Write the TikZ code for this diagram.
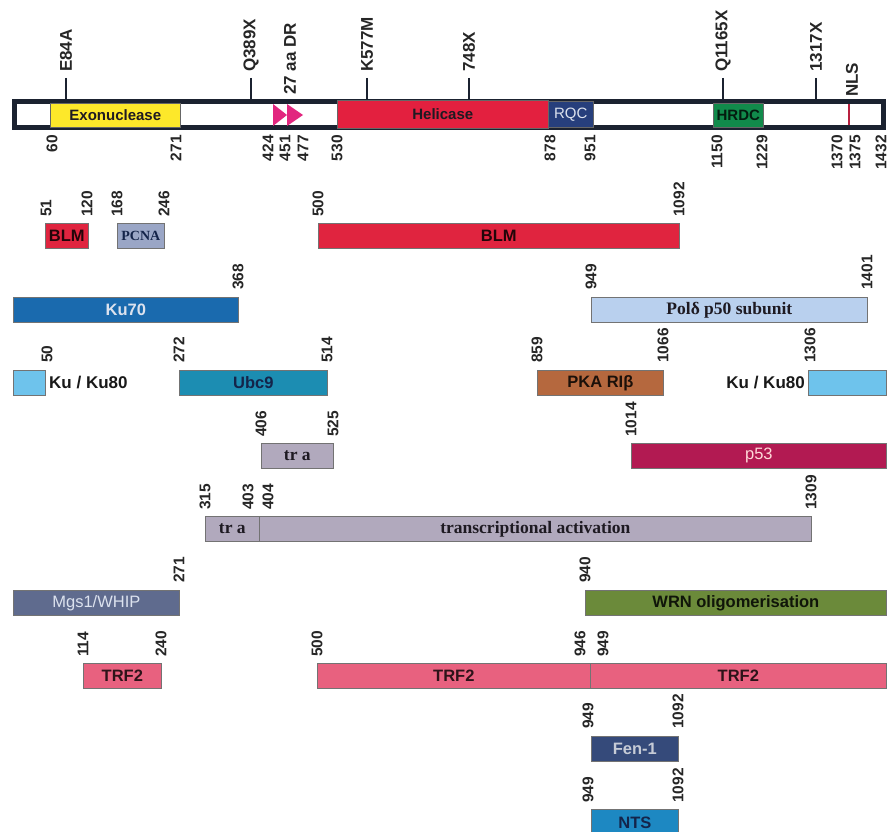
\documentclass[tikz,border=0pt]{standalone}
\usepackage{fontspec}
\setmainfont{Liberation Sans}
\newfontfamily\serifb{Liberation Serif}
\definecolor{framec}{HTML}{1B2230}
\definecolor{exoc}{HTML}{FDE82A}
\definecolor{helic}{HTML}{E3203F}
\definecolor{rqcc}{HTML}{273F7C}
\definecolor{hrdcc}{HTML}{118A4B}
\definecolor{tric}{HTML}{E2267F}
\definecolor{nlsc}{HTML}{B8203F}
\definecolor{blmc}{HTML}{E0243F}
\definecolor{pcnac}{HTML}{9AA6C6}
\definecolor{kuc}{HTML}{1A6AAE}
\definecolor{polc}{HTML}{B9D0EE}
\definecolor{kueic}{HTML}{6EC3EC}
\definecolor{ubcc}{HTML}{1C8DB2}
\definecolor{pkac}{HTML}{B5683E}
\definecolor{trac}{HTML}{B1A9BD}
\definecolor{pfc}{HTML}{B21A52}
\definecolor{mgsc}{HTML}{5F6B8E}
\definecolor{wrnc}{HTML}{6B8A3A}
\definecolor{trfc}{HTML}{E8617F}
\definecolor{fenc}{HTML}{354A7A}
\definecolor{ntsc}{HTML}{1D88C2}
\definecolor{darktxt}{HTML}{1E1A22}
\definecolor{navytxt}{HTML}{14244A}
\definecolor{lighttxt}{HTML}{DCE2EE}
\begin{document}
\begin{tikzpicture}[x=1pt,y=-1pt,
  numf/.style={font=\bfseries\fontsize{15.5}{16}\selectfont, rotate=90, inner sep=0pt, text=black!85},
  numup/.style={numf, anchor=west},
  numdown/.style={numf, anchor=east},
  mut/.style={font=\bfseries\fontsize{17}{18}\selectfont, rotate=90, anchor=west, inner sep=0pt, text=black!85},
  tickline/.style={line width=2pt, draw=framec},
  boxf/.style={draw=black!55, line width=0.7pt, anchor=north west, inner sep=0pt, minimum height=25pt,
    font=\bfseries\fontsize{16.5}{17}\selectfont, text=darktxt},
  domf/.style={draw=black!60, line width=0.6pt, anchor=north west, inner sep=0pt,
    font=\bfseries\fontsize{15}{16}\selectfont, text=darktxt},
  serifl/.style={font=\serifb\bfseries\fontsize{17.5}{18}\selectfont, text=darktxt},
  sidelab/.style={font=\bfseries\fontsize{17}{18}\selectfont, inner sep=0pt, text=black!90}
]
\clip (0,0) rectangle (892,832);
\fill[white] (0,0) rectangle (892,832);

% ---------- main WRN bar ----------
\draw[line width=5pt, draw=framec, fill=white] (14.5,101.5) rectangle (883.5,127.5);
\node[domf, fill=exoc, minimum width=130pt, minimum height=24pt] (exo) at (50,103) {Exonuclease};
\fill[tric] (273,104) -- (287,115) -- (273,126) -- cycle;
\fill[tric] (287,104) -- (303,115) -- (287,126) -- cycle;
\node[domf, fill=helic, minimum width=211pt, minimum height=28pt] (heli) at (337,100) {Helicase};
\node[domf, fill=rqcc, minimum width=45pt, minimum height=26pt, font=\fontsize{15}{16}\selectfont, text=lighttxt] (rqc) at (548,101) {RQC};
\node[domf, fill=hrdcc, minimum width=50pt, minimum height=24pt, text=black!80!hrdcc] (hrdc) at (713,103) {HRDC};
\draw[nlsc, line width=1.6pt] (849,104.5) -- (849,125);

% mutation ticks and labels
\node[mut] (mE) at (66,72) {E84A};
\node[mut] (mQ) at (251,72) {Q389X};
\node[mut] (mDR) at (290,95) {27 aa DR};
\node[mut] (mK) at (367,72) {K577M};
\node[mut] (m748) at (469,72) {748X};
\node[mut] (mQ11) at (723,72) {Q1165X};
\node[mut] (m1317) at (816,72) {1317X};
\node[mut] (mNLS) at (852,97) {NLS};
\foreach \x/\n in {66/tE,251/tQ,367/tK,469/t748,723/tQ11,816/t1317}{
  \coordinate (\n a) at (\x,78);
  \coordinate (\n b) at (\x,100);
  \draw[tickline] (\n a) -- (\n b);
}

% numbers under bar
\foreach \x/\t in {52/60,176/271,268/424,285/451,303/477,337/530,550/878,590/951,717/1150,762/1229,837/1370,855/1375,881/1432}{
  \node[numdown] (b\t) at (\x,135) {\t};
}

% ---------- row 1 ----------
\node[boxf, fill=blmc, minimum width=43pt, text=black!85!blmc] (blma) at (45,223) {BLM};
\node[boxf, fill=pcnac, minimum width=47pt, font=\serifb\bfseries\fontsize{14}{15}\selectfont, text=navytxt] (pcna) at (117,223) {PCNA};
\node[boxf, fill=blmc, minimum width=361pt, text=black!85!blmc] (blmb) at (318,223) {BLM};
\foreach \x/\t/\n in {46/51/r1a,87/120/r1b,117/168/r1c,164/246/r1d,318/500/r1e,679/1092/r1f}{
  \node[numup] (\n) at (\x,217) {\t};
}

% ---------- row 2 ----------
\node[boxf, fill=kuc, minimum width=225pt, font=\fontsize{16.5}{17}\selectfont\bfseries, text=lighttxt] (ku70) at (13,297) {Ku70};
\node[boxf, fill=polc, minimum width=276pt, serifl] (pol) at (591,297) {Polδ p50 subunit};
\foreach \x/\t/\n in {238/368/r2a,591/949/r2b,867/1401/r2c}{
  \node[numup] (\n) at (\x,290) {\t};
}

% ---------- row 3 ----------
\node[boxf, fill=kueic, minimum width=32pt] (kua) at (13,370) {};
\node[sidelab, anchor=west] (kuat) at (49,383) {Ku / Ku80};
\node[boxf, fill=ubcc, minimum width=148pt, text=navytxt] (ubc) at (179,370) {Ubc9};
\node[boxf, fill=pkac, minimum width=126pt, text=black!85!pkac] (pka) at (537,370) {PKA RIβ};
\node[boxf, fill=kueic, minimum width=78pt] (kub) at (808,370) {};
\node[sidelab, anchor=east] (kubt) at (805,383) {Ku / Ku80};
\foreach \x/\t/\n in {47/50/r3a,179/272/r3b,327/514/r3c,537/859/r3d,663/1066/r3e,810/1306/r3f}{
  \node[numup] (\n) at (\x,363) {\t};
}

% ---------- row 4 ----------
\node[boxf, fill=trac, minimum width=72pt, serifl] (traa) at (261,443) {tr a};
\node[boxf, fill=pfc, minimum width=255pt, font=\fontsize{16.5}{17}\selectfont, text=pink!60!white] (p53) at (631,443) {p53};
\foreach \x/\t/\n in {261/406/r4a,333/525/r4b,631/1014/r4c}{
  \node[numup] (\n) at (\x,437) {\t};
}

% ---------- row 5 ----------
\node[boxf, fill=trac, minimum width=54pt, serifl] (trab) at (205,516) {tr a};
\node[boxf, fill=trac, minimum width=552pt, serifl] (trans) at (259,516) {transcriptional activation};
\foreach \x/\t/\n in {205/315/r5a,248/403/r5b,268/404/r5c,811/1309/r5d}{
  \node[numup] (\n) at (\x,510) {\t};
}

% ---------- row 6 ----------
\node[boxf, fill=mgsc, minimum width=166pt, font=\fontsize{16.5}{17}\selectfont, text=lighttxt] (mgs) at (13,590) {Mgs1/WHIP};
\node[boxf, fill=wrnc, minimum width=301pt, text=black!85!wrnc] (wrn) at (585,590) {WRN oligomerisation};
\foreach \x/\t/\n in {179/271/r6a,585/940/r6b}{
  \node[numup] (\n) at (\x,583) {\t};
}

% ---------- row 7 ----------
\node[boxf, fill=trfc, minimum width=78pt, text=black!80!trfc] (trfa) at (83,663) {TRF2};
\node[boxf, fill=trfc, minimum width=273pt, text=black!80!trfc] (trfb) at (317,663) {TRF2};
\node[boxf, fill=trfc, minimum width=296pt, text=black!80!trfc] (trfc) at (590,663) {TRF2};
\foreach \x/\t/\n in {83/114/r7a,161/240/r7b,317/500/r7c,580/946/r7d,603/949/r7e}{
  \node[numup] (\n) at (\x,657) {\t};
}

% ---------- row 8 ----------
\node[boxf, fill=fenc, minimum width=87pt, font=\fontsize{16.5}{17}\selectfont\bfseries, text=lighttxt!90!black] (fen) at (591,736) {Fen-1};
\foreach \x/\t/\n in {588/949/r8a,678/1092/r8b}{
  \node[numup] (\n) at (\x,729) {\t};
}

% ---------- row 9 ----------
\node[boxf, fill=ntsc, minimum width=87pt, minimum height=34pt, text=navytxt] (nts) at (591,809) {\raisebox{7pt}{NTS}};
\foreach \x/\t/\n in {588/949/r9a,678/1092/r9b}{
  \node[numup] (\n) at (\x,803) {\t};
}
\end{tikzpicture}
\end{document}
